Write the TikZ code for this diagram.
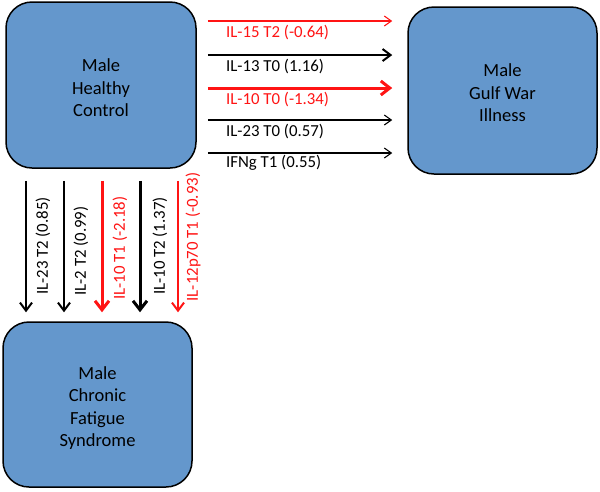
\documentclass[tikz,border=0pt]{standalone}
\usepackage{fontspec}
\setmainfont{Carlito}
\usetikzlibrary{arrows.meta}
\definecolor{boxblue}{RGB}{100,151,204}
\definecolor{arrred}{RGB}{255,20,20}
\tikzset{
	group/.style={draw=black, line width=1.5pt, fill=boxblue, rounded corners=26pt, inner sep=0pt},
	grouptext/.style={align=center, font=\fontsize{18.5}{22.5}\selectfont, inner sep=0pt},
	lbl/.style={font=\fontsize{16.8}{19}\selectfont, inner sep=0pt},
	thinarr/.style={line width=1.1pt, -{Straight Barb[length=7pt,width=10pt]}},
	midarr/.style={line width=2pt, -{Straight Barb[length=8pt,width=12pt]}},
	thickarr/.style={line width=3pt, -{Straight Barb[length=9pt,width=14pt]}},
	harr/.style={shorten <=11pt, shorten >=15pt},
	varr/.style={shorten <=12pt, shorten >=9pt}
}

\begin{document}
\begin{tikzpicture}[x=1pt, y=1pt]
		%%%%% START %%%%%
		\useasboundingbox (0, 0) rectangle (600, -491);
		
		\node[group, minimum width=190pt, minimum height=166pt] (hc) at (101, -85) {};
		\node[grouptext] (hctext) at ([yshift=-3pt]hc.center) {Male\\Healthy\\Control};
		\node[group, minimum width=189pt, minimum height=167pt] (gw) at (502.5, -90.5) {};
		\node[grouptext] (gwtext) at ([yshift=-2.5pt]gw.center) {Male\\Gulf War\\Illness};
		\node[group, minimum width=189pt, minimum height=165pt] (cfs) at (97.5, -404.5) {};
		\node[grouptext] (cfstext) at ([yshift=-3.5pt]cfs.center) {Male\\Chronic\\Fatigue\\Syndrome};
		
		% healthy -> gulf war
		\draw[thinarr, harr, arrred] (hc.east |- 0,-21) -- (gw.west |- 0,-21);
		\node[lbl, anchor=west, text=arrred] (l1) at (226, -33) {IL-15 T2 (-0.64)};
		\draw[midarr, harr] (hc.east |- 0,-55) -- (gw.west |- 0,-55);
		\node[lbl, anchor=west] (l2) at (226, -67) {IL-13 T0 (1.16)};
		\draw[thickarr, harr, arrred] (hc.east |- 0,-88) -- (gw.west |- 0,-88);
		\node[lbl, anchor=west, text=arrred] (l3) at (226, -100) {IL-10 T0 (-1.34)};
		\draw[thinarr, harr] (hc.east |- 0,-120) -- (gw.west |- 0,-120);
		\node[lbl, anchor=west] (l4) at (226, -132) {IL-23 T0 (0.57)};
		\draw[thinarr, harr] (hc.east |- 0,-153) -- (gw.west |- 0,-153);
		\node[lbl, anchor=west] (l5) at (226, -163) {IFNg T1 (0.55)};
		
		% healthy -> chronic fatigue
		\draw[midarr, varr] (hc.south -| 26,0) -- (cfs.north -| 26,0);
		\node[lbl, rotate=90] (l6) at (43, -246) {IL-23 T2 (0.85)};
		\draw[midarr, varr] (hc.south -| 64,0) -- (cfs.north -| 64,0);
		\node[lbl, rotate=90] (l7) at (81, -251) {IL-2 T2 (0.99)};
		\draw[thickarr, varr, arrred] (hc.south -| 102,0) -- (cfs.north -| 102,0);
		\node[lbl, rotate=90, text=arrred] (l8) at (120, -248) {IL-10 T1 (-2.18)};
		\draw[thickarr, varr] (hc.south -| 140,0) -- (cfs.north -| 140,0);
		\node[lbl, rotate=90] (l9) at (160, -246) {IL-10 T2 (1.37)};
		\draw[midarr, varr, arrred] (hc.south -| 178,0) -- (cfs.north -| 178,0);
		\node[lbl, rotate=90, text=arrred] (l10) at (193, -237) {IL-12p70 T1 (-0.93)};
		
		%%%%% END %%%%%
\end{tikzpicture}
\end{document}
